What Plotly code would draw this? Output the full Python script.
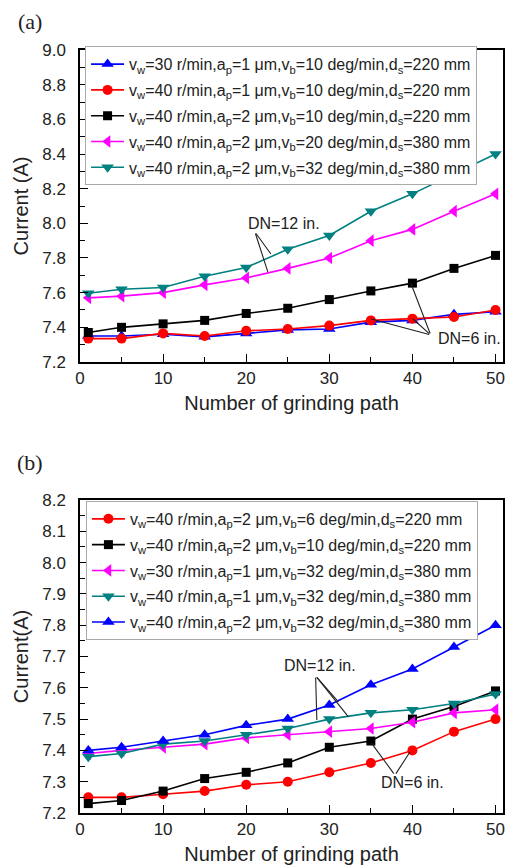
import plotly.graph_objects as go

# ---------------- data ----------------
x_paths = [1, 5, 10, 15, 20, 25, 30, 35, 40, 45, 50]

# panel (a)
a_labels = [
    "v<sub>w</sub>=30 r/min,a<sub>p</sub>=1 μm,v<sub>b</sub>=10 deg/min,d<sub>s</sub>=220 mm",
    "v<sub>w</sub>=40 r/min,a<sub>p</sub>=1 μm,v<sub>b</sub>=10 deg/min,d<sub>s</sub>=220 mm",
    "v<sub>w</sub>=40 r/min,a<sub>p</sub>=2 μm,v<sub>b</sub>=10 deg/min,d<sub>s</sub>=220 mm",
    "v<sub>w</sub>=40 r/min,a<sub>p</sub>=2 μm,v<sub>b</sub>=20 deg/min,d<sub>s</sub>=380 mm",
    "v<sub>w</sub>=40 r/min,a<sub>p</sub>=2 μm,v<sub>b</sub>=32 deg/min,d<sub>s</sub>=380 mm",
]
a_blue = [7.35, 7.35, 7.36, 7.345, 7.365, 7.385, 7.39, 7.43, 7.44, 7.475, 7.49]
a_red = [7.335, 7.335, 7.365, 7.35, 7.38, 7.39, 7.41, 7.44, 7.45, 7.46, 7.50]
a_black = [7.37, 7.40, 7.42, 7.44, 7.48, 7.51, 7.56, 7.61, 7.655, 7.74, 7.815]
a_magenta = [7.57, 7.58, 7.60, 7.645, 7.685, 7.74, 7.80, 7.90, 7.965, 8.07, 8.17]
a_teal = [7.597, 7.62, 7.63, 7.695, 7.745, 7.85, 7.93, 8.07, 8.17, 8.285, 8.40]

# panel (b)
b_labels = [
    "v<sub>w</sub>=40 r/min,a<sub>p</sub>=2 μm,v<sub>b</sub>=6 deg/min,d<sub>s</sub>=220 mm",
    "v<sub>w</sub>=40 r/min,a<sub>p</sub>=2 μm,v<sub>b</sub>=10 deg/min,d<sub>s</sub>=220 mm",
    "v<sub>w</sub>=30 r/min,a<sub>p</sub>=1 μm,v<sub>b</sub>=32 deg/min,d<sub>s</sub>=380 mm",
    "v<sub>w</sub>=40 r/min,a<sub>p</sub>=1 μm,v<sub>b</sub>=32 deg/min,d<sub>s</sub>=380 mm",
    "v<sub>w</sub>=40 r/min,a<sub>p</sub>=2 μm,v<sub>b</sub>=32 deg/min,d<sub>s</sub>=380 mm",
]
b_red = [7.25, 7.25, 7.26, 7.27, 7.29, 7.30, 7.33, 7.36, 7.40, 7.46, 7.50]
b_black = [7.23, 7.24, 7.27, 7.31, 7.33, 7.36, 7.41, 7.43, 7.50, 7.54, 7.59]
b_magenta = [7.39, 7.40, 7.41, 7.42, 7.44, 7.45, 7.46, 7.47, 7.49, 7.52, 7.53]
b_teal = [7.38, 7.39, 7.42, 7.43, 7.45, 7.47, 7.50, 7.52, 7.53, 7.55, 7.58]
b_blue = [7.40, 7.41, 7.43, 7.45, 7.48, 7.50, 7.545, 7.61, 7.66, 7.73, 7.80]

a_yticks = [7.2, 7.4, 7.6, 7.8, 8.0, 8.2, 8.4, 8.6, 8.8, 9.0]
b_yticks = [7.2, 7.3, 7.4, 7.5, 7.6, 7.7, 7.8, 7.9, 8.0, 8.1, 8.2]
x_ticks = [0, 10, 20, 30, 40, 50]

# ---------------- styles ----------------
FONT = "Liberation Sans, Arial, sans-serif"
SERIF = "Liberation Serif, Times New Roman, serif"
BLUE, RED, BLACK, MAG, TEAL = "#0000ff", "#ff0000", "#000000", "#ff00ff", "#008080"

fig = go.Figure()

def add(ys, name, color, symbol, size, xa, ya, legend, grp):
    fig.add_trace(go.Scatter(
        x=x_paths, y=ys, name=name, mode="lines+markers",
        line=dict(color=color, width=1.6),
        marker=dict(color=color, symbol=symbol, size=size),
        xaxis=xa, yaxis=ya, legend=legend, legendgroup=grp,
    ))

a_series = [(a_blue, BLUE, "triangle-up", 11), (a_red, RED, "circle", 10),
            (a_black, BLACK, "square", 9), (a_magenta, MAG, "triangle-left", 11),
            (a_teal, TEAL, "triangle-down", 11)]
for i, (ys, c, s, sz) in enumerate(a_series):
    add(ys, a_labels[i], c, s, sz, "x", "y", "legend", f"a{i}")

b_series = [(b_red, RED, "circle", 10), (b_black, BLACK, "square", 9),
            (b_magenta, MAG, "triangle-left", 11), (b_teal, TEAL, "triangle-down", 11),
            (b_blue, BLUE, "triangle-up", 11)]
for i, (ys, c, s, sz) in enumerate(b_series):
    add(ys, b_labels[i], c, s, sz, "x2", "y2", "legend2", f"b{i}")

axis_common = dict(
    showline=True, linecolor="black", linewidth=1.5, mirror=True,
    ticks="inside", ticklen=8, tickwidth=1.3, tickcolor="black",
    showgrid=False, zeroline=False,
    tickfont=dict(family=FONT, size=17, color="#222"),
)
xcommon = dict(axis_common, range=[0, 50.9], tickvals=x_ticks,
               minor=dict(dtick=5, tick0=0, ticks="inside", ticklen=5, tickwidth=1.3, tickcolor="black"),
               title=dict(text="Number of grinding path", font=dict(family=FONT, size=20, color="#222"), standoff=9))
ycommon = dict(axis_common, ticklabelstandoff=9)

leg_common = dict(xanchor="left", yanchor="top", bgcolor="white",
                  bordercolor="#aaaaaa", borderwidth=1,
                  font=dict(family=FONT, size=16, color="#222"), itemwidth=33,
                  tracegroupgap=2, traceorder="grouped")

fig.update_layout(
    width=508, height=865,
    margin=dict(l=80, r=3, t=50, b=52),
    paper_bgcolor="white", plot_bgcolor="white",
    font=dict(family=FONT, color="#222"),
    xaxis=dict(xcommon, domain=[0, 1], anchor="y"),
    yaxis=dict(ycommon, domain=[0.5911, 1], anchor="x", range=[7.2, 9.0],
               tickvals=a_yticks, ticktext=[f"{v:.1f}" for v in a_yticks],
               minor=dict(dtick=0.1, tick0=7.2, ticks="inside", ticklen=5, tickwidth=1.3, tickcolor="black"),
               title=dict(text="Current (A)", font=dict(family=FONT, size=20, color="#222"), standoff=8)),
    xaxis2=dict(xcommon, domain=[0, 1], anchor="y2"),
    yaxis2=dict(ycommon, domain=[0, 0.4102], anchor="x2", range=[7.2, 8.2],
                tickvals=b_yticks, ticktext=[f"{v:.1f}" for v in b_yticks],
                minor=dict(dtick=0.05, tick0=7.2, ticks="inside", ticklen=5, tickwidth=1.3, tickcolor="black"),
                title=dict(text="Current(A)", font=dict(family=FONT, size=20, color="#222"), standoff=8)),
    legend=dict(leg_common, x=0.012, y=1.005),
    legend2=dict(leg_common, x=0.014, y=0.409),
    showlegend=True,
)

# ---------------- annotations ----------------
ann = []
def label(text, x, y, xr, yr, size=16, family=FONT):
    ann.append(dict(text=text, x=x, y=y, xref=xr, yref=yr, showarrow=False,
                    xanchor="center", yanchor="middle",
                    font=dict(family=family, size=size, color="#222")))

def leader(x0, y0, x1, y1, xr, yr):
    ann.append(dict(text="", x=x1, y=y1, ax=x0, ay=y0, xref=xr, yref=yr,
                    axref=xr, ayref=yr, showarrow=True, arrowhead=0,
                    arrowwidth=1.1, arrowcolor="#222", standoff=0, startstandoff=0))

# panel (a)
label("DN=12 in.", 24.5, 8.0, "x", "y")
leader(21.05, 7.95, 22.97, 7.823, "x", "y")
leader(21.05, 7.95, 22.6, 7.72, "x", "y")
label("DN=6 in.", 46.9, 7.338, "x", "y")
leader(42.2, 7.356, 39.8, 7.656, "x", "y")
leader(42.2, 7.356, 35.05, 7.448, "x", "y")
leader(42.2, 7.356, 40.07, 7.448, "x", "y")

# panel (b)
label("DN=12 in.", 28.9, 7.67, "x2", "y2")
leader(28.35, 7.638, 28.5, 7.497, "x2", "y2")
leader(28.35, 7.638, 31.1, 7.555, "x2", "y2")
leader(28.35, 7.638, 32.3, 7.507, "x2", "y2")
label("DN=6 in.", 40.0, 7.296, "x2", "y2")
leader(37.9, 7.321, 35.05, 7.424, "x2", "y2")
leader(37.9, 7.321, 39.7, 7.395, "x2", "y2")

# panel letters
label("(a)", -0.1176, 1.0367, "paper", "paper", size=22, family=SERIF)
label("(b)", -0.1176, 0.46, "paper", "paper", size=22, family=SERIF)

fig.update_layout(annotations=ann)
# remove the browser's default 8px page margin so the 508x865 figure fills the window exactly
fig.write_html("out.html",
               config={"displayModeBar": False},
               post_script="document.body.style.margin='0';document.body.style.overflow='hidden';")
